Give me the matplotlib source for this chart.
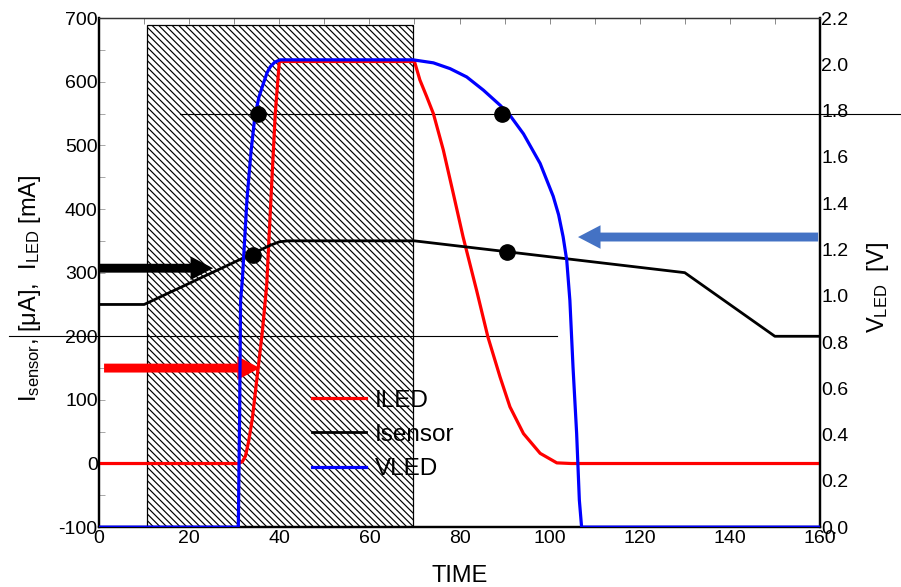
import matplotlib
matplotlib.use("Agg")
import matplotlib.pyplot as plt
from matplotlib.patches import Rectangle, FancyArrow
from matplotlib.ticker import MultipleLocator

plt.rcParams['font.family'] = ['Liberation Sans', 'DejaVu Sans']
plt.rcParams['mathtext.default'] = 'regular'
plt.rcParams['axes.unicode_minus'] = False
plt.rcParams['hatch.linewidth'] = 0.85

# ILED [mA]
iled_t = [0, 31, 31.8, 32.5, 33.2, 34, 35.3, 36.2, 37.2, 38.1, 39.1, 40, 70,
          71.2, 72.7, 74.2, 76.4, 78.6, 80.8, 83.8, 86.3, 89, 91.2,
          94.2, 97.9, 101.6, 104.8, 160]
iled = [0, 0, 3, 12, 35, 70, 150, 205, 280, 410, 550, 632, 632,
        603, 577, 550, 493, 425, 356, 272, 199, 136, 89,
        47, 16, 1, 0, 0]

# Isensor [uA]
isens_t = [0, 10, 38, 40, 42, 70, 130, 150, 160]
isens = [250, 250, 343, 348.5, 350, 350, 300, 200, 200]

# VLED [V]
vled_t = [0, 30.9, 31.2, 31.4, 31.8, 32.8, 33.7, 34.6, 35.5, 36.5, 37.3, 38, 39,
          40.2, 69.7, 74.2, 77.9, 81.6, 85.3, 89, 91.2, 94.2, 97.9, 100.8,
          102, 103, 103.8, 104.5, 105.2, 106, 106.6, 107.1, 160]
vled = [0, 0, 0.5, 0.98, 1.07, 1.41, 1.62, 1.78, 1.86, 1.92, 1.965, 1.99, 2.01,
        2.02, 2.02, 2.007, 1.982, 1.946, 1.889, 1.824, 1.78, 1.70, 1.572, 1.43,
        1.35, 1.255, 1.154, 0.98, 0.69, 0.405, 0.117, 0, 0]

# marked points (left axis units)
dot_t = [35.3, 89.4, 34.2, 90.6]
dot_y = [550, 550, 327, 333]

# shaded window
win_t0, win_t1, win_top = 10.6, 69.7, 690

# reference levels: (y, x from, x to)
ref_lines = [(550, 18, 178), (200, -20, 101.6)]

# arrows: (tail x, tip x, y, colour)
arrows = [(0.2, 25.3, 307, 'black'),
          (1.1, 35.7, 150, 'red'),
          (159.6, 106.3, 356, '#4472C4')]

fig = plt.figure(figsize=(9.01, 5.87), dpi=100)
ax = fig.add_axes([0.110, 0.102, 0.800, 0.867])
ax2 = ax.twinx()

ax.set_xlim(0, 160)
ax.set_ylim(-100, 700)
ax2.set_ylim(0, 2.2)

ax.add_patch(Rectangle((win_t0, -100), win_t1 - win_t0, win_top + 100,
                       facecolor='white', edgecolor='black', lw=0.9,
                       hatch='\\\\\\\\\\', zorder=1))

for y, x0, x1 in ref_lines:
    ax.plot([x0, x1], [y, y], color='black', lw=0.8, clip_on=False, zorder=2)

for x0, x1, y, c in arrows:
    dx = x1 - x0
    ax.add_patch(FancyArrow(x0, y, dx, 0, width=14, head_width=37,
                            head_length=5.0, length_includes_head=True,
                            color=c, lw=0, zorder=3, clip_on=False))

l1, = ax.plot(iled_t, iled, color='red', lw=2.3, zorder=4, label='ILED')
l2, = ax.plot(isens_t, isens, color='black', lw=2.0, zorder=4, label='Isensor')
l3, = ax2.plot(vled_t, vled, color='blue', lw=2.3, zorder=4, label='VLED')

ax2.plot(dot_t, dot_y, 'o', color='black', ms=11, transform=ax.transData,
         zorder=5, clip_on=False)

ax.xaxis.set_major_locator(MultipleLocator(20))
ax.xaxis.set_minor_locator(MultipleLocator(10))
ax.yaxis.set_major_locator(MultipleLocator(100))
ax.yaxis.set_minor_locator(MultipleLocator(50))
ax2.yaxis.set_major_locator(MultipleLocator(0.2))

ax.tick_params(axis='x', which='both', direction='in', top=True, bottom=False,
               length=4, width=0.6, color='#777777', labelsize=14, pad=2)
ax.tick_params(axis='y', which='both', direction='in', length=4, width=0.6,
               color='#999999', labelsize=14, pad=1)
ax2.tick_params(axis='y', which='both', length=0, labelsize=14, pad=1)
ax2.set_yticklabels([f'{v:.1f}' for v in ax2.get_yticks()])

for a in (ax, ax2):
    for side in ('left', 'bottom', 'right'):
        a.spines[side].set_linewidth(1.6)
    a.spines['top'].set_linewidth(0.9)
    a.spines['top'].set_color('#333333')

ax.set_xlabel('TIME', fontsize=17)
ax.xaxis.set_label_coords(0.5, -0.074)
ax.set_ylabel('I$_{sensor}$, [μA],  I$_{LED}$ [mA]', fontsize=17)
ax.yaxis.set_label_coords(-0.078, 0.47)
ax2.set_ylabel('V$_{LED}$  [V]', fontsize=17)
ax2.yaxis.set_label_coords(1.062, 0.47)

ax2.legend(handles=[l1, l2, l3], loc='upper left', bbox_to_anchor=(0.295, 0.270),
           frameon=False, fontsize=17.5, handlelength=2.25, handletextpad=0.35,
           labelspacing=0.5, borderpad=0, borderaxespad=0)

fig.savefig('out.png', dpi=100)
